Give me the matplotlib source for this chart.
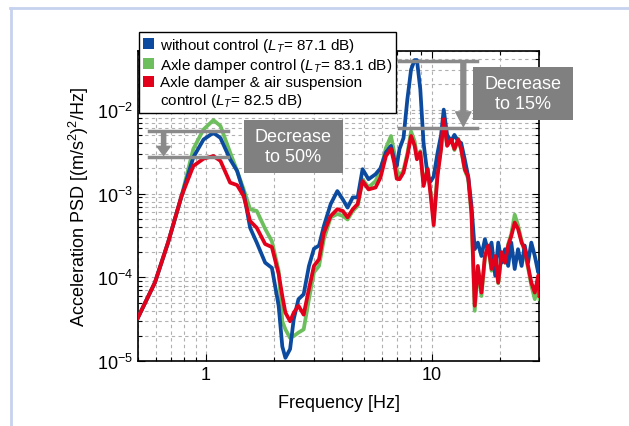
import matplotlib
matplotlib.use('Agg')
import matplotlib.pyplot as plt
from matplotlib.patches import Patch, Rectangle
from matplotlib.lines import Line2D

plt.rcParams['font.family'] = ['Liberation Sans', 'DejaVu Sans']
plt.rcParams['mathtext.fontset'] = 'custom'
plt.rcParams['mathtext.rm'] = 'Liberation Sans'
plt.rcParams['mathtext.it'] = 'Liberation Sans:italic'
plt.rcParams['mathtext.bf'] = 'Liberation Sans:bold'

# frequency grid [Hz]
freq = [0.5, 0.595, 0.68, 0.78, 0.88, 0.976, 1.08, 1.16, 1.28, 1.375, 1.47, 1.57, 1.68, 1.83, 1.96,
        2.1, 2.18, 2.25, 2.36, 2.45, 2.57, 2.71, 2.86, 3.01, 3.17, 3.33, 3.57, 3.82, 4.04, 4.24,
        4.47, 4.7, 4.94, 5.25, 5.64, 5.93, 6.27, 6.6, 6.82, 7.0, 7.2, 7.5, 7.8, 8.1, 8.4, 8.6,
        8.9, 9.2, 9.6, 9.9, 10.2, 10.6, 11.0, 11.3, 11.7, 12.2, 12.6, 13.1, 13.5, 14.0, 14.5,
        15.0, 15.5, 16.0, 16.6, 17.2, 17.8, 18.4, 19.1, 19.7, 20.4, 21.1, 21.8, 22.5, 23.3,
        24.1, 25.0, 25.8, 26.7, 27.6, 28.6, 29.6, 30.0]

# without control
psd_none = [3.3e-5, 8.7e-5, 2.6e-4, 9.3e-4, 2.7e-3, 4.4e-3, 5.3e-3, 4.6e-3, 2.56e-3, 1.86e-3,
            1.03e-3, 3.9e-4, 2.6e-4, 1.5e-4, 1.3e-4, 4.6e-5, 1.5e-5, 1.1e-5, 1.4e-5, 3.2e-5,
            5.5e-5, 6.3e-5, 1.37e-4, 2.2e-4, 2.4e-4, 4.1e-4, 7.5e-4, 1.07e-3, 8.5e-4, 6.8e-4,
            9.0e-4, 9.0e-4, 1.95e-3, 1.48e-3, 1.7e-3, 2.0e-3, 3.1e-3, 3.7e-3, 2.56e-3, 2.13e-3,
            3.4e-3, 4.6e-3, 1.33e-2, 3.0e-2, 3.9e-2, 3.9e-2, 1.75e-2, 4.0e-3, 1.6e-3, 1.4e-3,
            1.6e-3, 3.0e-3, 5.0e-3, 1.0e-2, 5.0e-3, 4.2e-3, 5.0e-3, 4.2e-3, 4.0e-3, 2.56e-3,
            1.6e-3, 7.1e-4, 2.17e-4, 2.6e-4, 1.8e-4, 2.86e-4, 2.0e-4, 2.6e-4, 1.05e-4, 2.6e-4,
            1.5e-4, 2.17e-4, 1.37e-4, 2.6e-4, 1.26e-4, 2.17e-4, 1.37e-4, 2.4e-4, 1.5e-4, 2.6e-4,
            1.8e-4, 1.15e-4, 1.5e-4]

# axle damper control
psd_axle = [3.3e-5, 8.7e-5, 2.6e-4, 9.3e-4, 3.4e-3, 5.8e-3, 7.5e-3, 6.4e-3, 3.1e-3, 1.86e-3,
            1.12e-3, 6.5e-4, 6.2e-4, 3.8e-4, 2.7e-4, 1.2e-4, 3.0e-5, 2.4e-5, 1.9e-5, 2.0e-5,
            2.2e-5, 2.4e-5, 5.5e-5, 1.15e-4, 1.37e-4, 2.86e-4, 5.2e-4, 5.7e-4, 5.4e-4, 4.9e-4,
            6.2e-4, 7.1e-4, 1.48e-3, 1.18e-3, 1.41e-3, 1.86e-3, 3.5e-3, 4.85e-3, 3.1e-3, 1.95e-3,
            1.6e-3, 1.9e-3, 3.0e-3, 5.5e-3, 4.2e-3, 2.8e-3, 3.2e-3, 1.3e-3, 2.0e-3, 1.0e-3,
            5.0e-4, 1.7e-3, 3.5e-3, 8.0e-3, 3.8e-3, 4.5e-3, 3.3e-3, 4.5e-3, 3.3e-3, 1.9e-3,
            1.5e-3, 5.5e-4, 4.0e-5, 1.3e-4, 6.0e-5, 1.7e-4, 2.3e-4, 1.2e-4, 1.7e-4, 8.5e-5,
            1.9e-4, 1.5e-4, 2.5e-4, 3.3e-4, 5.6e-4, 4.2e-4, 2.7e-4, 2.0e-4, 1.3e-4, 8.0e-5,
            5.5e-5, 9.0e-5, 5.5e-5]

# axle damper & air suspension control
psd_both = [3.3e-5, 8.7e-5, 2.6e-4, 9.3e-4, 2.13e-3, 2.6e-3, 2.8e-3, 2.45e-3, 1.35e-3, 1.26e-3,
            9.3e-4, 4.7e-4, 3.9e-4, 2.5e-4, 2.3e-4, 1.1e-4, 6.0e-5, 3.8e-5, 3.0e-5, 3.8e-5,
            4.6e-5, 3.6e-5, 7.3e-5, 1.37e-4, 1.65e-4, 3.4e-4, 5.4e-4, 6.5e-4, 6.2e-4, 5.2e-4,
            6.5e-4, 7.5e-4, 1.41e-3, 1.12e-3, 1.18e-3, 1.55e-3, 2.8e-3, 3.4e-3, 2.34e-3, 1.5e-3,
            1.48e-3, 1.78e-3, 2.8e-3, 4.85e-3, 3.7e-3, 2.56e-3, 3.1e-3, 1.23e-3, 1.95e-3, 9.3e-4,
            4.2e-4, 1.6e-3, 3.4e-3, 7.7e-3, 3.7e-3, 4.4e-3, 3.4e-3, 4.4e-3, 3.4e-3, 1.95e-3,
            1.6e-3, 5.9e-4, 4.6e-5, 1.37e-4, 6.6e-5, 1.8e-4, 2.4e-4, 1.26e-4, 1.8e-4, 8.7e-5,
            2.0e-4, 1.5e-4, 2.4e-4, 3.1e-4, 4.5e-4, 3.8e-4, 2.6e-4, 2.2e-4, 1.37e-4, 8.7e-5,
            6.6e-5, 1.05e-4, 6.0e-5]

# legend lines; the last label is wrapped onto a second row without a swatch
labels = ['without control ($\\mathit{L}_\\mathit{T}$= 87.1 dB)',
          'Axle damper control ($\\mathit{L}_\\mathit{T}$= 83.1 dB)',
          'Axle damper & air suspension',
          'control ($\\mathit{L}_\\mathit{T}$= 82.5 dB)']
colors = ['#0b4a9e', '#6cbf5c', '#e2001a']

fig = plt.figure(figsize=(6.29, 4.27), dpi=100)
ax = fig.add_axes([0.2192, 0.1515, 0.6385, 0.7267])

ax.plot(freq, psd_axle, color=colors[1], lw=2.7, zorder=3)
ax.plot(freq, psd_none, color=colors[0], lw=2.7, zorder=4)
ax.plot(freq, psd_both, color=colors[2], lw=2.7, zorder=5)

ax.set_xscale('log')
ax.set_yscale('log')
ax.set_xlim(0.5, 30)
ax.set_ylim(1e-5, 0.05)
ax.set_xticks([1, 10])
ax.set_xticklabels(['1', '10'])
ax.grid(True, which='both', ls=(0, (3, 3)), color='#b0b0b0', lw=0.8)
ax.tick_params(which='both', direction='in', top=True, right=True, labelsize=13, width=0.8)
ax.tick_params(which='major', length=5)
ax.tick_params(which='minor', length=3)
for s in ax.spines.values():
    s.set_linewidth(1.2)
ax.set_xlabel('Frequency [Hz]', fontsize=13, labelpad=8)
ax.set_ylabel('Acceleration PSD [(m/s$^2$)$^2$/Hz]', fontsize=13, labelpad=4)

handles = [Patch(facecolor=c, edgecolor='none') for c in colors]
handles.append(Patch(facecolor='none', edgecolor='none'))
leg = fig.legend(handles, labels, loc='upper left', bbox_to_anchor=(139 / 629, 1 - 33 / 427),
                 fontsize=11, frameon=True, fancybox=False, framealpha=1, edgecolor='black',
                 handlelength=0.75, handleheight=0.75, handletextpad=0.35, borderpad=0.25,
                 labelspacing=0.12, borderaxespad=0)
leg.get_frame().set_linewidth(1.0)
leg.set_zorder(10)

# decrease annotations
gray = '#8a8a8a'
ax.plot([0.56, 1.25], [5.56e-3, 5.56e-3], color=gray, lw=2.5, zorder=6, clip_on=False)
ax.plot([0.56, 1.25], [2.75e-3, 2.75e-3], color=gray, lw=2.5, zorder=6, clip_on=False)
ax.annotate('', xy=(0.65, 2.85e-3), xytext=(0.65, 5.5e-3),
            arrowprops=dict(arrowstyle='simple,head_width=0.95,head_length=0.65,tail_width=0.3',
                            color=gray, shrinkA=0, shrinkB=0), zorder=6)
ax.plot([7.15, 15.9], [0.038, 0.038], color=gray, lw=2.5, zorder=6, clip_on=False)
ax.plot([7.15, 15.9], [5.98e-3, 5.98e-3], color=gray, lw=2.5, zorder=6, clip_on=False)
ax.annotate('', xy=(13.8, 6.3e-3), xytext=(13.8, 0.037),
            arrowprops=dict(arrowstyle='simple,head_width=1.1,head_length=1.05,tail_width=0.35',
                            color=gray, shrinkA=0, shrinkB=0), zorder=6)

box_gray = '#808080'
fig.add_artist(Rectangle((244 / 629, 1 - 174 / 427), 99 / 629, 53 / 427,
                         transform=fig.transFigure, facecolor=box_gray, edgecolor='none', zorder=7))
fig.text(293.5 / 629, 1 - 147.5 / 427, 'Decrease\nto 50%', color='white', fontsize=13,
         ha='center', va='center', linespacing=1.25, zorder=8)
fig.add_artist(Rectangle((473 / 629, 1 - 121 / 427), 100 / 629, 53 / 427,
                         transform=fig.transFigure, facecolor=box_gray, edgecolor='none', zorder=7))
fig.text(523 / 629, 1 - 94.5 / 427, 'Decrease\nto 15%', color='white', fontsize=13,
         ha='center', va='center', linespacing=1.25, zorder=8)

# pale frame at top and left
fig.add_artist(Line2D([10.5 / 629, 10.5 / 629], [0, 1 - 8.5 / 427], transform=fig.transFigure,
                      color='#c6d3ee', lw=2))
fig.add_artist(Line2D([10 / 629, 1], [1 - 8.5 / 427, 1 - 8.5 / 427], transform=fig.transFigure,
                      color='#c6d3ee', lw=2))

fig.savefig('out.png', dpi=100)
